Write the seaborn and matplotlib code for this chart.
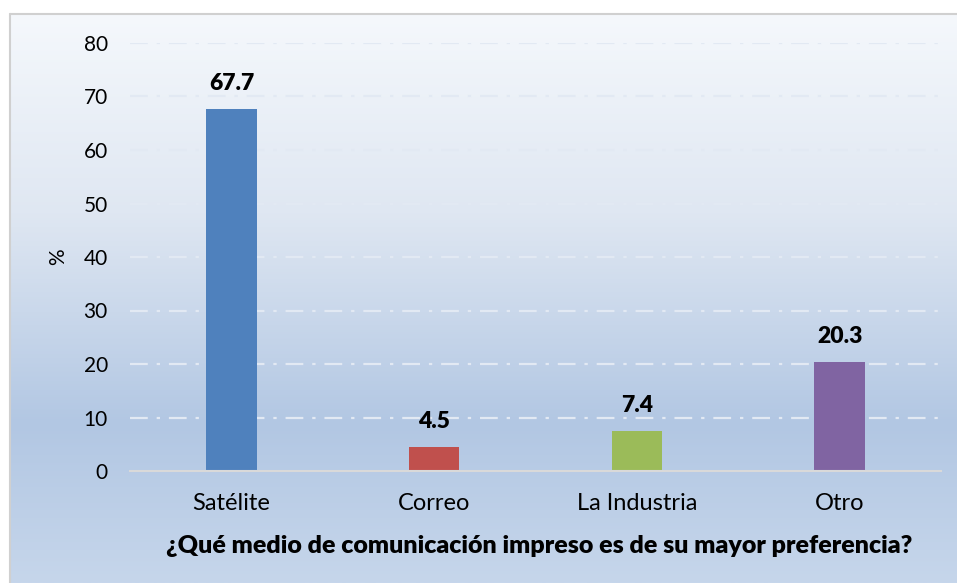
import matplotlib
matplotlib.use("Agg")
import matplotlib.pyplot as plt
from matplotlib.colors import LinearSegmentedColormap
import numpy as np
import pandas as pd
import seaborn as sns

categories = ["Satélite", "Correo", "La Industria", "Otro"]
values = [67.7, 4.5, 7.4, 20.3]
colors = ["#4f81bd", "#c0504d", "#9bbb59", "#8064a2"]
yticks = [0, 10, 20, 30, 40, 50, 60, 70, 80]
xlabel = "¿Qué medio de comunicación impreso es de su mayor preferencia?"
ylabel = "%"

sns.set_theme(style="white")
plt.rcParams["font.family"] = ["Lato", "DejaVu Sans"]

W, H = 957, 583
fig = plt.figure(figsize=(W / 100, H / 100), dpi=100)

# background gradient panel with border
bg = fig.add_axes([0, 0, 1, 1], zorder=-1)
bg.set_xlim(0, W)
bg.set_ylim(H, 0)
bg.axis("off")
cmap = LinearSegmentedColormap.from_list(
    "bg", [(0, "#f5f8fc"), (0.35, "#dfe7f2"), (0.72, "#b2c7e3"), (1.0, "#c6d6eb")])
grad = np.linspace(0, 1, 256).reshape(-1, 1)
bg.imshow(grad, cmap=cmap, aspect="auto", extent=[10, W, H, 14], zorder=0)
bg.plot([10, W], [14, 14], color="#d0d0d0", lw=1.5, zorder=1)
bg.plot([10, 10], [14, H], color="#d0d0d0", lw=1.5, zorder=1)

ax = fig.add_axes([130 / W, 1 - 471 / H, (941 - 130) / W, (471 - 43) / H])
ax.set_facecolor("none")
df = pd.DataFrame({"cat": categories, "val": values})
sns.barplot(data=df, x="cat", y="val", hue="cat", palette=colors, legend=False,
            width=0.25, saturation=1, linewidth=0, ax=ax, zorder=3)
ax.set_ylim(0, 80)
ax.set_xlim(-0.5, len(categories) - 0.5)
ax.set_yticks(yticks)
ax.set_yticklabels([str(t) for t in yticks], fontsize=15, color="#000000")
ax.tick_params(axis="y", length=0, pad=16)
ax.tick_params(axis="x", length=0, pad=16, labelsize=17)
for lbl in ax.get_xticklabels():
    lbl.set_color("#000000")
for t in yticks[1:]:
    ax.axhline(t, color="#e2e9f3", lw=1.6, ls=(0, (8, 4, 1.5, 4)), zorder=1)
for s in ["top", "right", "left"]:
    ax.spines[s].set_visible(False)
ax.spines["bottom"].set_color("#d9d9d9")
ax.spines["bottom"].set_linewidth(1.5)
ax.spines["bottom"].set_zorder(4)

for i, v in enumerate(values):
    ax.text(i, v + 2.8, f"{v:.1f}", ha="center", va="bottom", fontsize=16.5,
            fontweight="heavy", color="#000000")

ax.set_xlabel(xlabel, fontsize=18, fontweight="heavy", color="#000000")
ax.xaxis.set_label_coords(0.505, -0.15)
ax.set_ylabel(ylabel, fontsize=15, color="#000000")
ax.yaxis.set_label_coords(-0.076, 0.5)

fig.savefig("out.png", dpi=100)
